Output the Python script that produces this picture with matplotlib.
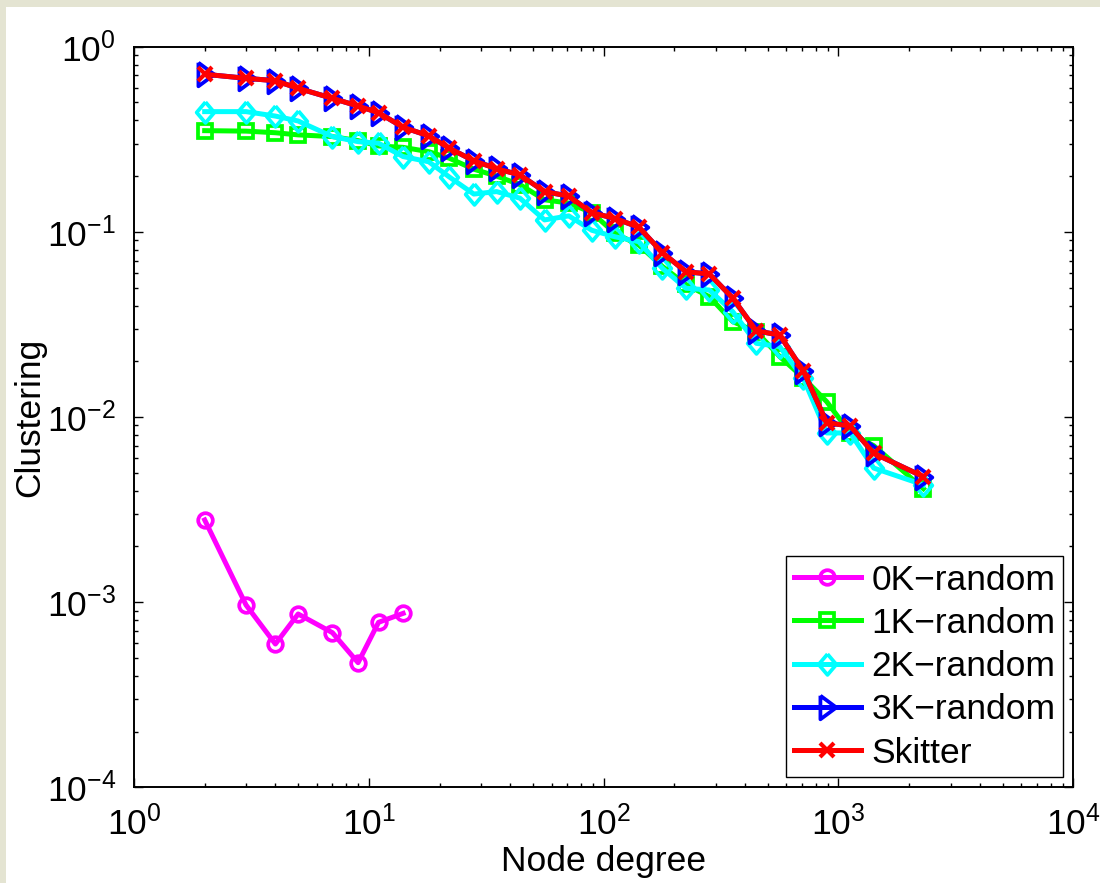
import matplotlib
matplotlib.use('Agg')
import matplotlib.pyplot as plt
from matplotlib.patches import Rectangle

plt.rcParams['font.family'] = ['Liberation Sans', 'DejaVu Sans']
plt.rcParams['mathtext.fontset'] = 'custom'
plt.rcParams['mathtext.rm'] = 'Liberation Sans'
plt.rcParams['mathtext.it'] = 'Liberation Sans:italic'
plt.rcParams['mathtext.default'] = 'regular'

# node degree bins
deg = [2, 3, 4, 5, 7, 9, 11, 14, 18, 22, 28, 35, 44, 56, 71, 89, 112, 141,
       178, 224, 282, 355, 447, 562, 708, 891, 1122, 1413, 2300]

deg_0k = [2, 3, 4, 5, 7, 9, 11, 14]
clust_0k = [0.00278, 0.000965, 0.000594, 0.000863, 0.000684, 0.000471,
            0.000778, 0.000870]

clust_1k = [0.352, 0.350, 0.343, 0.334, 0.327, 0.311, 0.291, 0.286, 0.271,
            0.250, 0.218, 0.200, 0.180, 0.149, 0.143, 0.127, 0.098, 0.085,
            0.065, 0.052, 0.0446, 0.0327, 0.0289, 0.0212, 0.0163, 0.0121,
            0.0082, 0.0070, 0.0041]

clust_2k = [0.446, 0.446, 0.422, 0.397, 0.327, 0.307, 0.301, 0.255, 0.239,
            0.198, 0.160, 0.165, 0.152, 0.116, 0.122, 0.102, 0.094, 0.0885,
            0.0635, 0.0496, 0.0485, 0.037, 0.0250, 0.0240, 0.0162, 0.0082,
            0.0082, 0.0053, 0.0043]

clust_3k = [0.71, 0.675, 0.655, 0.596, 0.526, 0.478, 0.440, 0.367, 0.330,
            0.283, 0.242, 0.220, 0.203, 0.165, 0.156, 0.127, 0.118, 0.106,
            0.0772, 0.0609, 0.0592, 0.0438, 0.0292, 0.0277, 0.0178, 0.00931,
            0.00894, 0.00637, 0.00476]

clust_sk = [0.71, 0.675, 0.655, 0.596, 0.526, 0.478, 0.440, 0.367, 0.330,
            0.283, 0.242, 0.219, 0.203, 0.165, 0.156, 0.127, 0.118, 0.106,
            0.0772, 0.0609, 0.0592, 0.0438, 0.0292, 0.0277, 0.0178, 0.00931,
            0.00894, 0.00637, 0.00476]

W, H = 1100, 883
fs = 25.5
fig = plt.figure(figsize=(W / 100, H / 100), dpi=100)
fig.patch.set_facecolor('#e4e4d2')
fig.add_artist(Rectangle((6 / W, 0), 1 - 6 / W, 1 - 7 / H,
                         transform=fig.transFigure, facecolor='white',
                         edgecolor='none', zorder=-5))

ax = fig.add_axes([134 / W, (H - 787.3) / H, 939.3 / W, 740.6 / H])

# closed marker outlines (matlab style '>' and 'd')
tri = [(-0.6, 1), (0.75, 0), (-0.6, -1), (-0.6, 1)]
dia = [(0, 1), (0.85, 0), (0, -1), (-0.85, 0), (0, 1)]

lw = 3.6
ax.plot(deg_0k, clust_0k, color='#ff00ff', lw=lw, marker='o', ms=10.5,
        mew=2.7, mfc='none', label='0K\u2212random')
ax.plot(deg, clust_1k, color='#00ff00', lw=lw, marker='s', ms=10.5,
        mew=2.7, mfc='none', label='1K\u2212random')
ax.plot(deg, clust_2k, color='#00ffff', lw=lw, marker=dia, ms=15,
        mew=2.7, mfc='none', label='2K\u2212random')
ax.plot(deg, clust_3k, color='#0000ff', lw=lw, marker=tri, ms=17,
        mew=2.7, mfc='none', label='3K\u2212random')
ax.plot(deg, clust_sk, color='#ff0000', lw=lw, marker='x', ms=10,
        mew=3.0, label='Skitter')

ax.set_xscale('log')
ax.set_yscale('log')
ax.set_xlim(1, 1e4)
ax.set_ylim(1e-4, 1)

for s in ax.spines.values():
    s.set_linewidth(1.4)
ax.tick_params(which='both', direction='in', top=True, right=True,
               width=1.0, labelsize=fs)
ax.tick_params(which='major', length=6.7)
ax.tick_params(which='minor', length=3.2)
ax.tick_params(axis='x', pad=13)
ax.tick_params(axis='y', pad=13)

ax.set_xlabel('Node degree', fontsize=fs, labelpad=2)
ax.set_ylabel('Clustering', fontsize=fs, labelpad=0)

leg = ax.legend(loc='lower right', fontsize=fs, fancybox=False,
                framealpha=1, edgecolor='black', borderaxespad=0.3,
                borderpad=0.2, handlelength=1.9, handletextpad=0.3,
                labelspacing=0.29)
leg.get_frame().set_linewidth(1.0)

fig.savefig('out.png', dpi=100, facecolor=fig.get_facecolor())
